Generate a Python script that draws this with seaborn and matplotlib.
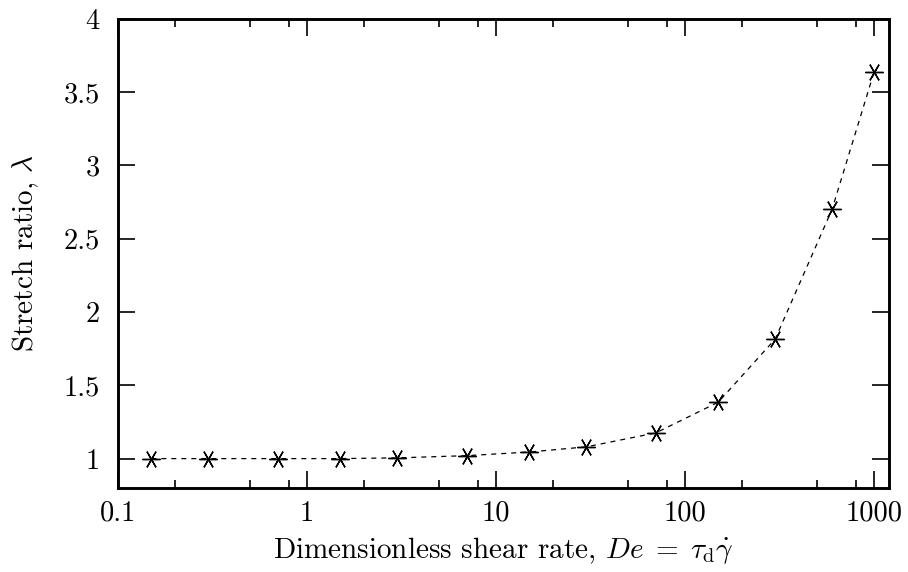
import numpy as np
import pandas as pd
import matplotlib
matplotlib.use("Agg")
import matplotlib.pyplot as plt
from matplotlib.ticker import FixedLocator, FixedFormatter, NullFormatter
import seaborn as sns

# Deborah number (dimensionless shear rate) and steady-state stretch ratio
shear_rate = [0.15, 0.3, 0.7, 1.5, 3, 7, 15, 30, 70, 150, 300, 600, 1000]
stretch = [1.0, 1.0, 1.0, 1.0, 1.005, 1.02, 1.045, 1.08, 1.175, 1.385, 1.815, 2.70, 3.635]

x_major = [0.1, 1, 10, 100, 1000]
x_major_labels = ["0.1", "1", "10", "100", "1000"]
y_major = [1, 1.5, 2, 2.5, 3, 3.5, 4]
y_major_labels = ["1", "1.5", "2", "2.5", "3", "3.5", "4"]

df = pd.DataFrame({"De": shear_rate, "lam": stretch})

sns.set_theme(style="ticks")
plt.rcParams.update({
    "font.family": ["cmr10", "DejaVu Serif"],
    "mathtext.fontset": "cm",
    "axes.unicode_minus": False,
    "axes.formatter.use_mathtext": True,
    "text.color": "black",
    "axes.labelcolor": "black",
    "xtick.color": "black",
    "ytick.color": "black",
})

fig = plt.figure(figsize=(9.08, 5.72), dpi=100)
ax = fig.add_axes([0.130, 0.147, 0.849, 0.820])

# six-armed asterisk with a horizontal arm
sns.lineplot(data=df, x="De", y="lam", ax=ax, color="black", linewidth=0.9,
             linestyle=(0, (4, 4)), marker=(6, 2, 30), markersize=13,
             markeredgewidth=1.0, markeredgecolor="black")

ax.set_xscale("log")
ax.set_xlim(0.1, 1200)
ax.set_ylim(0.8, 4.0)

# minor marks at 2, 5 and 8 within each decade
minor = [m * 10.0 ** e for e in range(-1, 4) for m in (2, 5, 8)]
minor = [v for v in minor if v < 1200]
ax.xaxis.set_major_locator(FixedLocator(x_major))
ax.xaxis.set_major_formatter(FixedFormatter(x_major_labels))
ax.xaxis.set_minor_locator(FixedLocator(minor))
ax.xaxis.set_minor_formatter(NullFormatter())
ax.yaxis.set_major_locator(FixedLocator(y_major))
ax.yaxis.set_major_formatter(FixedFormatter(y_major_labels))
ax.yaxis.set_minor_locator(FixedLocator([]))

ax.tick_params(which="both", direction="in", top=True, right=True,
               labelsize=20.5)
ax.tick_params(axis="x", pad=9)
ax.tick_params(axis="y", pad=13)
ax.tick_params(which="major", length=12, width=1.2)
ax.tick_params(which="minor", length=6, width=1.2)
for s in ax.spines.values():
    s.set_linewidth(2.1)
    s.set_color("black")

ax.set_xlabel(r"Dimensionless shear rate, $De\;=\;\tau_\mathrm{d}\dot{\gamma}$",
              fontsize=21, labelpad=6)
ax.set_ylabel(r"Stretch ratio, $\lambda$", fontsize=21, labelpad=16)

fig.savefig("out.png", dpi=100)
